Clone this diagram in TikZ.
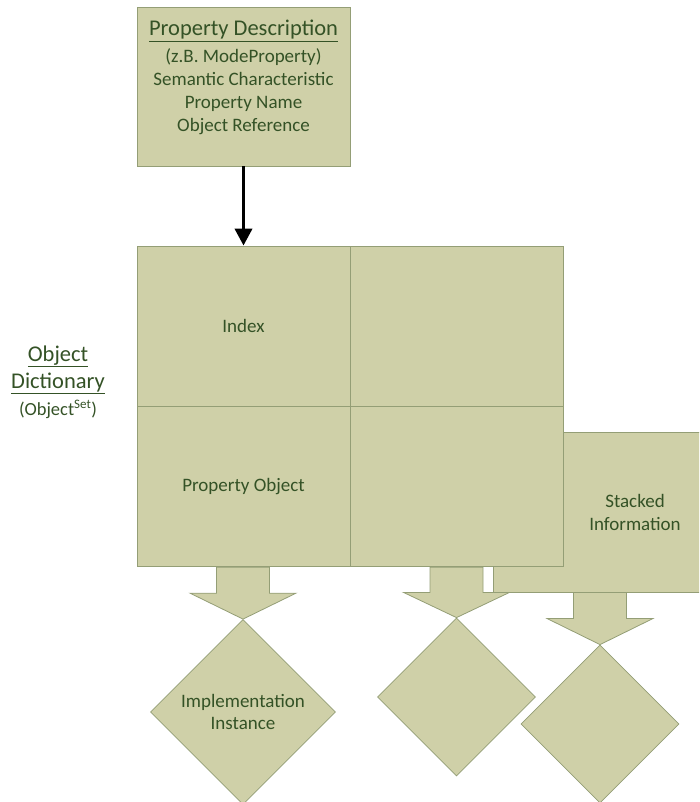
\documentclass[tikz,border=0pt]{standalone}
\usepackage{fontspec}
\setmainfont{Carlito}
\usepackage{tikz}
\usetikzlibrary{arrows.meta,positioning,shapes.geometric,calc}

\definecolor{khaki}{RGB}{207,208,168}
\definecolor{khakiedge}{RGB}{148,158,118}
\definecolor{labelgreen}{RGB}{52,82,38}

% block arrow from the bottom of #1 down to the tip at #2
\newcommand{\blockdown}[2]{%
  \filldraw[blockarrow] let \p1=(#1), \p2=(#2) in
    (\x2-26.5pt,\y1) -- (\x2+26.5pt,\y1) -- (\x2+26.5pt,{(\y1+\y2)/2})
    -- (\x2+53pt,{(\y1+\y2)/2}) -- (\x2,\y2) -- (\x2-53pt,{(\y1+\y2)/2})
    -- (\x2-26.5pt,{(\y1+\y2)/2}) -- cycle;}

\begin{document}
\begin{tikzpicture}[x=1pt, y=-1pt,
    box/.style={draw=khakiedge, fill=khaki, line width=0.8pt, inner sep=0pt,
        font=\fontsize{19}{23}\selectfont, text=labelgreen, align=center},
    cell/.style={box, minimum width=213pt, minimum height=160pt},
    instance/.style={box, diamond, minimum width=#1, minimum height=#1},
    blockarrow/.style={draw=khakiedge, fill=khaki, line width=0.8pt, line join=miter},
    headline/.style={font=\fontsize{22.5}{27}\selectfont}]

    \path[use as bounding box, clip] (0,0) rectangle (699,802);

    % Property description on top
    \node (propdesc) [cell, minimum height=159pt] at (243.5,86.5) {};
    \node (propdesctext) [anchor=north, text=labelgreen, align=center,
        font=\fontsize{19}{23}\selectfont] at ([yshift=-10pt]propdesc.north)
        {{\fontsize{22.5}{26}\selectfont\underline{Property Description}}\\[4pt]
         (z.B. ModeProperty)\\ Semantic Characteristic\\ Property Name\\ Object Reference};

    % Stacked information (behind the dictionary)
    \node (stacked) [box, minimum width=284pt, minimum height=160pt] at (635,512)
        {Stacked\\ Information};

    % Object dictionary grid
    \node (index)   [cell] at (243.5,326) {Index};
    \node (cellTR)  [cell, right=0pt of index] {};
    \node (propobj) [cell, below=0pt of index] {Property Object};
    \node (cellBR)  [cell, below=0pt of cellTR] {};

    \node (objdict) [text=labelgreen, align=center, headline] at (58,382)
        {\underline{Object}\\ \underline{Dictionary}\\
         {\fontsize{18.5}{22}\selectfont (Object\textsuperscript{Set})}};

    % Reference arrow
    \draw[-{Triangle[width=17pt,length=17pt]}, line width=3.8pt]
        (propdesc.south) -- (index.north);

    % Implementation instances
    \node (implinst) [instance=185pt, font=\fontsize{19}{22}\selectfont] at (243,712)
        {Implementation\\ Instance};
    \node (midinst)  [instance=158pt] at (456.5,697) {};
    \node (stackinst)[instance=158pt] at (600,724) {};

    \blockdown{propobj.south}{implinst.north}
    \blockdown{cellBR.south}{midinst.north}
    \coordinate (stackout) at (stacked.south -| stackinst.north);
    \blockdown{stackout}{stackinst.north}
\end{tikzpicture}
\end{document}
